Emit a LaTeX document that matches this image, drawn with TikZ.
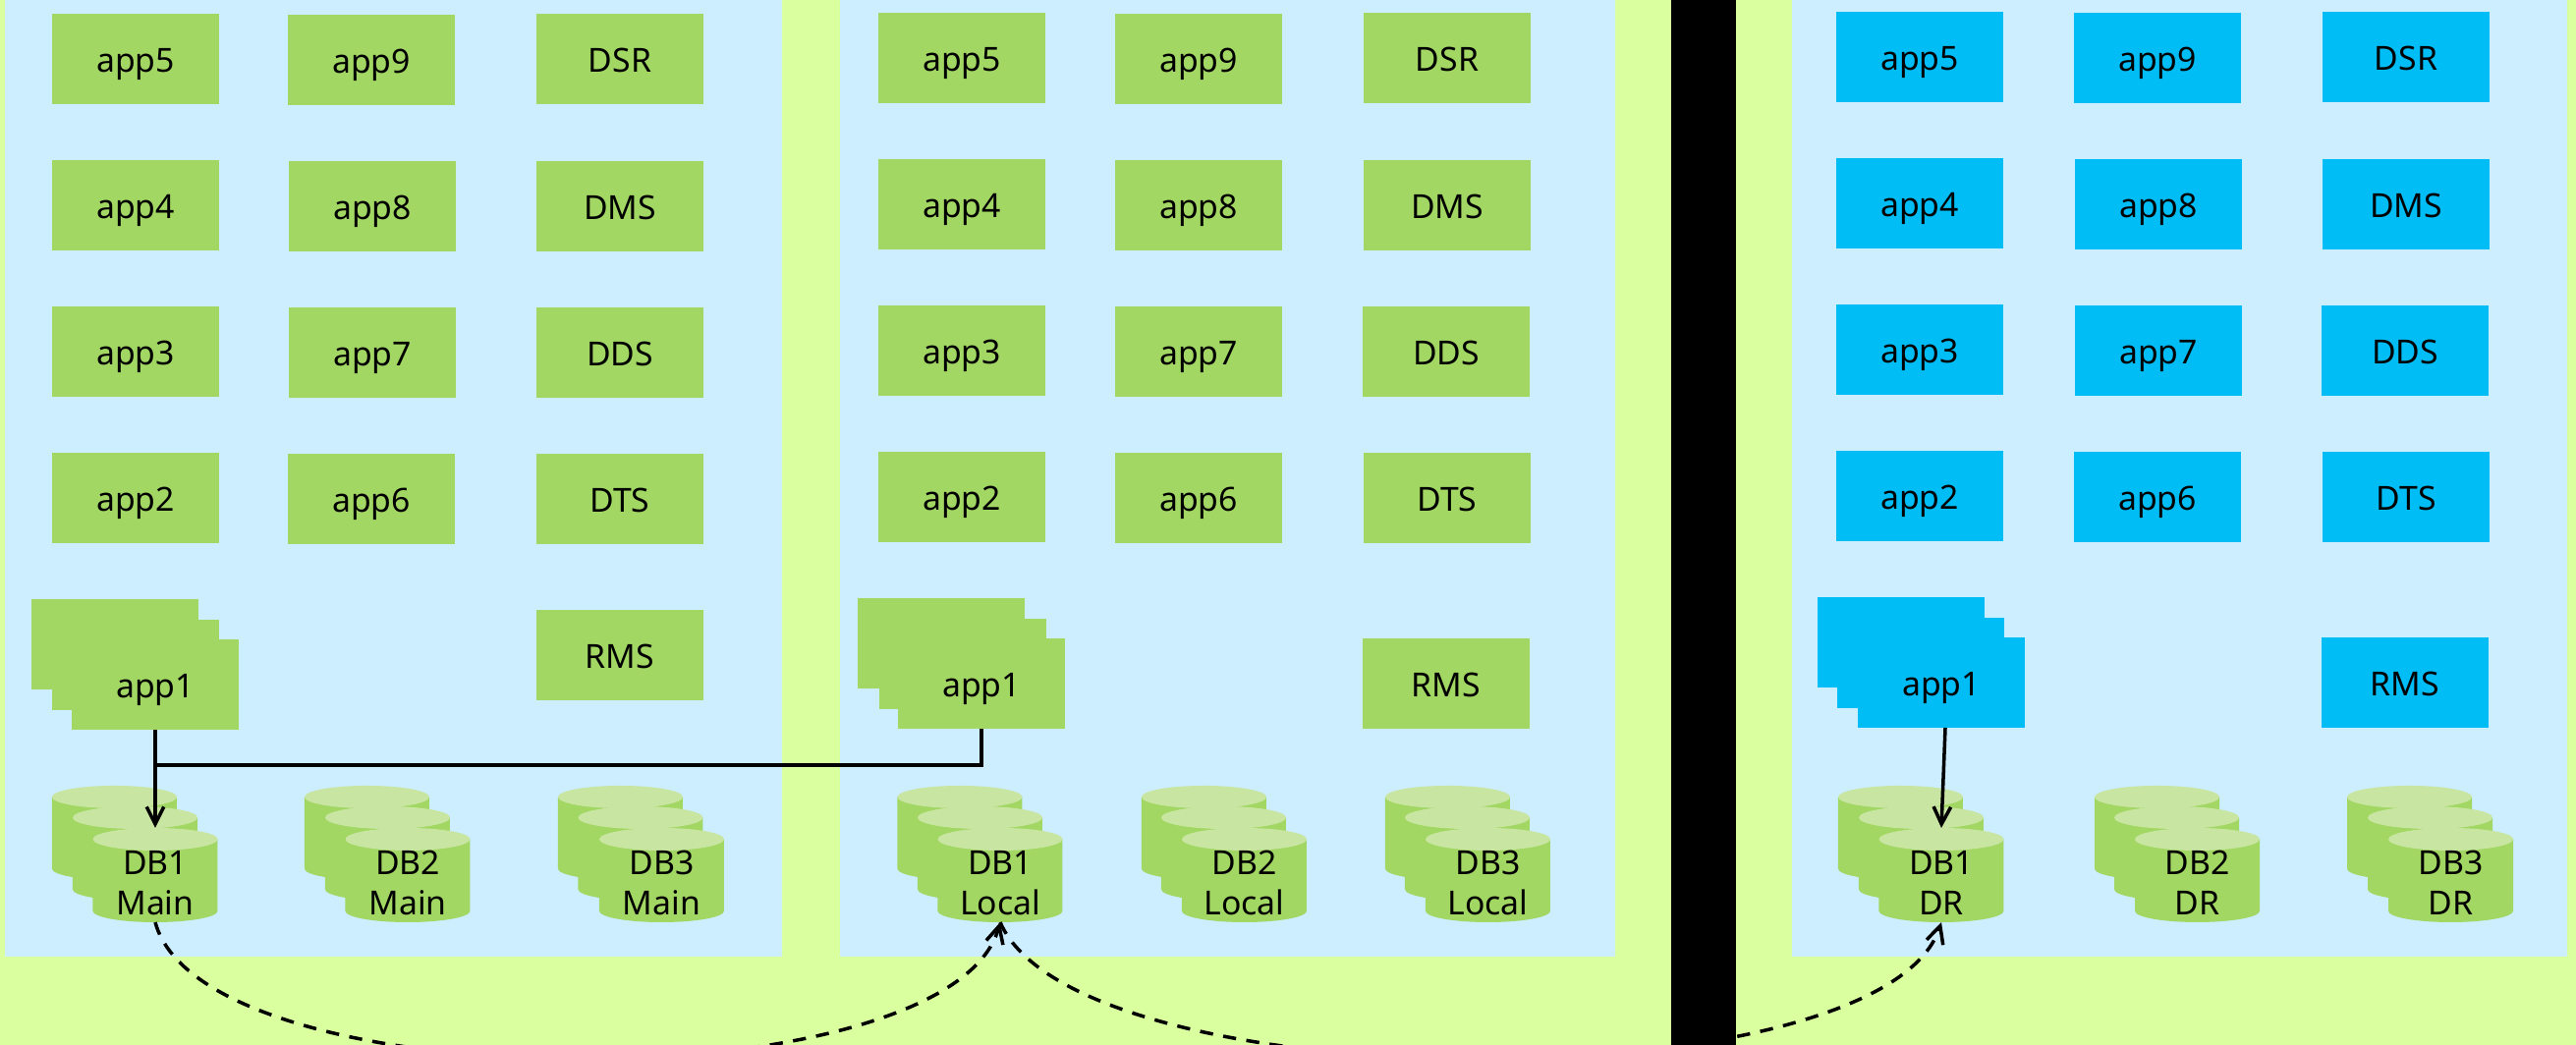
\documentclass[tikz,border=0pt]{standalone}
\usepackage{fontspec}
\setmainfont{Noto Sans}
\usetikzlibrary{arrows.meta}
\definecolor{sitebg}{RGB}{217,255,158}
\definecolor{panelbg}{RGB}{204,238,255}
\definecolor{appgreen}{RGB}{161,215,98}
\definecolor{appblue}{RGB}{0,189,246}
\definecolor{dbtop}{RGB}{200,229,162}

\begin{document}
\begin{tikzpicture}[x=0.01cm, y=0.01cm]
  \tikzstyle{every node}+=[inner sep=0pt, outer sep=0pt, font=\fontsize{9.6}{11.67}\selectfont]
  \tikzstyle{appbox}=[fill=appgreen, minimum width=1.7cm, minimum height=0.92cm, text height=8pt, text depth=0.6pt]
  \tikzstyle{drbox}=[appbox, fill=appblue]
  \tikzstyle{dbcyl}=[minimum width=1.27cm, minimum height=0.96cm, align=center, text height=23pt, text depth=0pt, path picture={
    \fill [appgreen] (path picture bounding box.north west) ++(0,-11.5) -- ++(0,-73) arc (180:360:63.5 and 11.5) -- ++(0,73) -- cycle;
    \fill [dbtop] (path picture bounding box.north) ++(0,-11.5) ellipse (63.5 and 11.5);
  }]
  \tikzstyle{link}=[black, line width=1pt, >={Straight Barb[length=5pt, width=5pt]}]
  \tikzstyle{repl}=[link, dashed, dash pattern=on 3.8pt off 3pt]
  \useasboundingbox (0,0) rectangle (2622,-1064);
  \clip (0,0) rectangle (2622,-1064);
  \fill [sitebg] (0,0) rectangle (2622,-1064);
  \fill [panelbg] (5,0) rectangle (796,-974);
  \fill [panelbg] (855,0) rectangle (1644,-974);
  \fill [panelbg] (1824,0) rectangle (2613,-974);

  \node [appbox] (mainapp5) at (138,-60) {app5};
  \node [appbox] (mainapp9) at (378,-61) {app9};
  \node [appbox] (maindsr) at (631,-60) {DSR};
  \node [appbox] (mainapp4) at (138,-209) {app4};
  \node [appbox] (mainapp8) at (379,-210) {app8};
  \node [appbox] (maindms) at (631,-210) {DMS};
  \node [appbox] (mainapp3) at (138,-358) {app3};
  \node [appbox] (mainapp7) at (379,-359) {app7};
  \node [appbox] (maindds) at (631,-359) {DDS};
  \node [appbox] (mainapp2) at (138,-507) {app2};
  \node [appbox] (mainapp6) at (378,-508) {app6};
  \node [appbox] (maindts) at (631,-508) {DTS};
  \node [appbox] (mainrms) at (631,-667) {RMS};
  \node [appbox] (mainapp1c) at (117,-656) {};
  \node [appbox] (mainapp1b) at (138,-677) {};
  \node [appbox] (mainapp1) at (158,-697) {app1};
  \node [dbcyl] (maindb1c) at (116.5,-848) {};
  \node [dbcyl] (maindb1b) at (137.5,-869) {};
  \node [dbcyl] (maindb1) at (158,-891) {DB1\\Main};
  \node [dbcyl] (maindb2c) at (373.5,-848) {};
  \node [dbcyl] (maindb2b) at (394.5,-869) {};
  \node [dbcyl] (maindb2) at (415,-891) {DB2\\Main};
  \node [dbcyl] (maindb3c) at (631.5,-848) {};
  \node [dbcyl] (maindb3b) at (652,-869) {};
  \node [dbcyl] (maindb3) at (673.5,-891) {DB3\\Main};

  \node [appbox] (localapp5) at (979,-59) {app5};
  \node [appbox] (localapp9) at (1220,-60) {app9};
  \node [appbox] (localdsr) at (1473,-59) {DSR};
  \node [appbox] (localapp4) at (979,-208) {app4};
  \node [appbox] (localapp8) at (1220,-209) {app8};
  \node [appbox] (localdms) at (1473,-209) {DMS};
  \node [appbox] (localapp3) at (979,-357) {app3};
  \node [appbox] (localapp7) at (1220,-358) {app7};
  \node [appbox] (localdds) at (1472,-358) {DDS};
  \node [appbox] (localapp2) at (979,-506) {app2};
  \node [appbox] (localapp6) at (1220,-507) {app6};
  \node [appbox] (localdts) at (1473,-507) {DTS};
  \node [appbox] (localrms) at (1472,-696) {RMS};
  \node [appbox] (localapp1c) at (958,-655) {};
  \node [appbox] (localapp1b) at (980,-676) {};
  \node [appbox] (localapp1) at (999,-696) {app1};
  \node [dbcyl] (localdb1c) at (977,-848) {};
  \node [dbcyl] (localdb1b) at (997.5,-869) {};
  \node [dbcyl] (localdb1) at (1018,-891) {DB1\\Local};
  \node [dbcyl] (localdb2c) at (1225.5,-848) {};
  \node [dbcyl] (localdb2b) at (1245.5,-869) {};
  \node [dbcyl] (localdb2) at (1266.5,-891) {DB2\\Local};
  \node [dbcyl] (localdb3c) at (1473.5,-848) {};
  \node [dbcyl] (localdb3b) at (1493.5,-869) {};
  \node [dbcyl] (localdb3) at (1514.5,-891) {DB3\\Local};

  \node [drbox] (drapp5) at (1954,-58) {app5};
  \node [drbox] (drapp9) at (2196,-59) {app9};
  \node [drbox] (drdsr) at (2449,-58) {DSR};
  \node [drbox] (drapp4) at (1954,-207) {app4};
  \node [drbox] (drapp8) at (2197,-208) {app8};
  \node [drbox] (drdms) at (2449,-208) {DMS};
  \node [drbox] (drapp3) at (1954,-356) {app3};
  \node [drbox] (drapp7) at (2197,-357) {app7};
  \node [drbox] (drdds) at (2448,-357) {DDS};
  \node [drbox] (drapp2) at (1954,-505) {app2};
  \node [drbox] (drapp6) at (2196,-506) {app6};
  \node [drbox] (drdts) at (2449,-506) {DTS};
  \node [drbox] (drrms) at (2448,-695) {RMS};
  \node [drbox] (drapp1c) at (1935,-654) {};
  \node [drbox] (drapp1b) at (1955,-675) {};
  \node [drbox] (drapp1) at (1976,-695) {app1};
  \node [dbcyl] (drdb1c) at (1934.5,-848) {};
  \node [dbcyl] (drdb1b) at (1955.5,-869) {};
  \node [dbcyl] (drdb1) at (1976,-891) {DB1\\DR};
  \node [dbcyl] (drdb2c) at (2195.5,-848) {};
  \node [dbcyl] (drdb2b) at (2215.5,-869) {};
  \node [dbcyl] (drdb2) at (2236.5,-891) {DB2\\DR};
  \node [dbcyl] (drdb3c) at (2452.5,-848) {};
  \node [dbcyl] (drdb3b) at (2473.5,-869) {};
  \node [dbcyl] (drdb3) at (2494.5,-891) {DB3\\DR};

  \coordinate (mainjoin) at (158,-779);
  \coordinate (drout) at (1980,-741);
  \draw [link, ->] (mainapp1.south) -- (maindb1.north);
  \draw [link] (localapp1.south) |- (mainjoin);
  \draw [link, ->] (drout) -- (drdb1.north);
  \draw [repl, ->] (maindb1.south) .. controls +(50,-185) and +(-50,-185) .. (localdb1.south);
  \draw [repl, ->] (localdb1.south) .. controls +(80,-185) and +(-60,-185) .. (drdb1.south);
  \fill [black] (1701,0) rectangle (1767,-1064);
\end{tikzpicture}
\end{document}
